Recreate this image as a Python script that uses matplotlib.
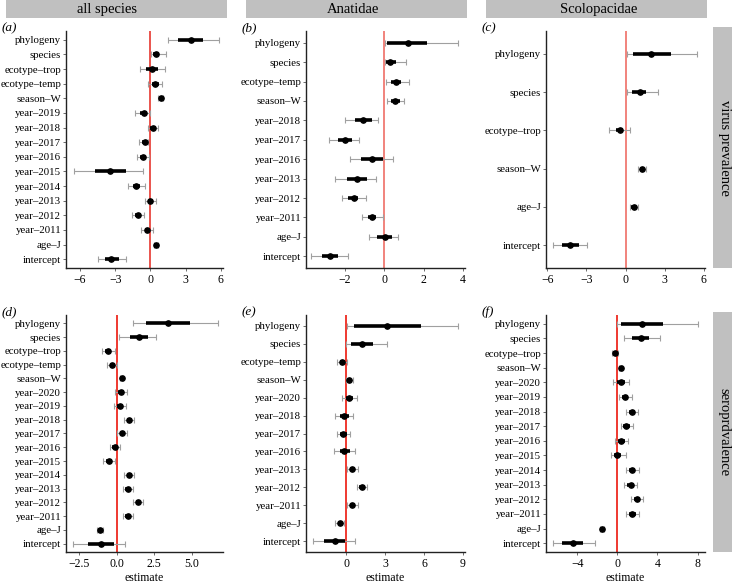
import matplotlib
matplotlib.use("Agg")
import matplotlib.pyplot as plt
from matplotlib.patches import Rectangle
import numpy as np

plt.rcParams['font.family'] = ['Liberation Serif', 'DejaVu Serif']

# ---- data (estimate, 50% interval, 95% interval), rows top -> bottom ----
terms_a = ["phylogeny", "species", "ecotype–trop", "ecotype–temp", "season–W", "year–2019",
           "year–2018", "year–2017", "year–2016", "year–2015", "year–2014", "year–2013",
           "year–2012", "year–2011", "age–J", "intercept"]
est_a = [3.43, 0.49, 0.14, 0.43, 0.89, -0.54, 0.23, -0.49, -0.63, -3.43, -1.2, 0.0, -1.06, -0.29, 0.46, -3.34]
lo50_a = [2.4, 0.2, -0.35, 0.1, 0.72, -0.9, 0.0, -0.75, -0.88, -4.74, -1.5, -0.2, -1.3, -0.5, 0.32, -3.91]
hi50_a = [4.5, 0.75, 0.65, 0.72, 1.05, -0.25, 0.45, -0.25, -0.4, -2.12, -0.9, 0.2, -0.8, -0.1, 0.6, -2.69]
lo95_a = [1.5, 0.03, -0.9, -0.2, 0.65, -1.29, -0.2, -1.0, -1.11, -6.5, -1.91, -0.49, -1.57, -0.77, 0.3, -4.51]
hi95_a = [5.9, 1.37, 1.22, 1.03, 1.1, 0.0, 0.63, -0.2, -0.11, -0.63, -0.49, 0.46, -0.57, 0.23, 0.62, -2.12]

terms_b = ["phylogeny", "species", "ecotype–temp", "season–W", "year–2018", "year–2017",
           "year–2016", "year–2013", "year–2012", "year–2011", "age–J", "intercept"]
est_b = [1.2, 0.31, 0.6, 0.55, -1.08, -2.0, -0.63, -1.37, -1.54, -0.6, 0.03, -2.74]
lo50_b = [0.14, 0.08, 0.35, 0.33, -1.49, -2.34, -1.16, -1.88, -1.8, -0.82, -0.34, -3.16]
hi50_b = [2.19, 0.6, 0.85, 0.8, -0.63, -1.62, -0.05, -0.85, -1.3, -0.4, 0.39, -2.31]
lo95_b = [0.03, 0.03, 0.09, 0.14, -1.97, -2.77, -1.74, -2.48, -2.14, -1.14, -0.77, -3.68]
hi95_b = [3.73, 1.11, 1.25, 1.03, -0.31, -1.28, 0.43, -0.39, -0.91, -0.05, 0.73, -1.83]

terms_c = ["phylogeny", "species", "ecotype–trop", "season–W", "age–J", "intercept"]
est_c = [1.98, 1.09, -0.44, 1.27, 0.63, -4.25]
lo50_c = [0.58, 0.5, -0.7, 1.1, 0.45, -4.89]
hi50_c = [3.46, 1.6, -0.2, 1.45, 0.85, -3.57]
lo95_c = [0.08, 0.08, -1.25, 0.96, 0.38, -5.57]
hi95_c = [5.47, 2.49, 0.38, 1.55, 0.96, -2.98]

terms_d = ["phylogeny", "species", "ecotype–trop", "ecotype–temp", "season–W", "year–2020",
           "year–2019", "year–2018", "year–2017", "year–2016", "year–2015", "year–2014",
           "year–2013", "year–2012", "year–2011", "age–J", "intercept"]
est_d = [3.4, 1.49, -0.56, -0.29, 0.35, 0.31, 0.24, 0.84, 0.38, -0.11, -0.49, 0.84, 0.73, 1.42, 0.73, -1.11, -1.05]
lo50_d = [1.93, 0.89, -0.75, -0.45, 0.27, 0.1, 0.05, 0.67, 0.2, -0.28, -0.7, 0.67, 0.56, 1.27, 0.56, -1.22, -1.89]
hi50_d = [4.89, 2.07, -0.35, -0.1, 0.43, 0.5, 0.43, 1.01, 0.55, 0.06, -0.29, 1.01, 0.9, 1.58, 0.9, -1.0, -0.18]
lo95_d = [1.07, 0.18, -1.0, -0.67, 0.25, -0.09, -0.16, 0.51, 0.04, -0.45, -0.93, 0.51, 0.4, 1.11, 0.4, -1.3, -2.89]
hi95_d = [6.73, 2.6, -0.11, 0.0, 0.45, 0.69, 0.62, 1.18, 0.69, 0.22, -0.09, 1.18, 1.07, 1.73, 1.07, -0.93, 0.55]

terms_e = ["phylogeny", "species", "ecotype–temp", "season–W", "year–2020", "year–2018",
           "year–2017", "year–2016", "year–2013", "year–2012", "year–2011", "age–J", "intercept"]
est_e = [3.18, 1.26, -0.28, 0.23, 0.23, -0.15, -0.21, -0.13, 0.49, 1.23, 0.49, -0.46, -0.85]
lo50_e = [0.64, 0.38, -0.45, 0.1, 0.0, -0.5, -0.45, -0.5, 0.28, 1.02, 0.3, -0.62, -1.67]
hi50_e = [5.77, 2.1, -0.1, 0.36, 0.5, 0.2, 0.05, 0.3, 0.72, 1.44, 0.7, -0.3, -0.08]
lo95_e = [0.05, 0.0, -0.67, 0.0, -0.28, -0.85, -0.72, -0.9, 0.05, 0.82, 0.1, -0.85, -2.51]
hi95_e = [8.64, 3.13, 0.05, 0.51, 0.82, 0.56, 0.31, 0.69, 0.95, 1.64, 0.9, -0.15, 0.69]

terms_f = ["phylogeny", "species", "ecotype–trop", "season–W", "year–2020", "year–2019",
           "year–2018", "year–2017", "year–2016", "year–2015", "year–2014", "year–2013",
           "year–2012", "year–2011", "age–J", "intercept"]
est_f = [2.43, 2.33, -0.23, 0.33, 0.4, 0.77, 1.5, 0.9, 0.4, 0.0, 1.5, 1.33, 2.0, 1.5, -1.5, -4.4]
lo50_f = [0.33, 1.43, -0.4, 0.25, 0.0, 0.45, 1.2, 0.6, 0.05, -0.35, 1.2, 1.0, 1.7, 1.15, -1.65, -5.5]
hi50_f = [4.57, 3.17, -0.05, 0.42, 0.8, 1.1, 1.8, 1.25, 0.75, 0.4, 1.8, 1.65, 2.3, 1.85, -1.38, -3.4]
lo95_f = [0.0, 0.67, -0.57, 0.2, -0.4, 0.17, 0.9, 0.33, -0.27, -0.67, 0.9, 0.67, 1.4, 0.9, -1.75, -6.4]
hi95_f = [8.07, 4.27, 0.1, 0.45, 1.17, 1.5, 2.1, 1.6, 1.07, 0.83, 2.13, 2.0, 2.6, 2.17, -1.3, -2.23]

col_titles = ["all species", "Anatidae", "Scolopacidae"]
row_titles = ["virus prevalence", "seroprdvalence"]
panel_tags = ["(a)", "(b)", "(c)", "(d)", "(e)", "(f)"]

W, H = 732, 584
fig = plt.figure(figsize=(W / 100, H / 100), dpi=100)

# panel boxes in pixels: (left, right) and (top, bottom)
col_px = [(66, 223), (306, 465), (546, 705)]
row_px = [(31, 268), (315, 552)]

panels = [
    (terms_a, est_a, lo50_a, hi50_a, lo95_a, hi95_a, (-7.2, 6.2), [-6, -3, 0, 3, 6], None, '#e8473f'),
    (terms_b, est_b, lo50_b, hi50_b, lo95_b, hi95_b, (-3.95, 4.1), [-2, 0, 2, 4], None, '#f07a72'),
    (terms_c, est_c, lo50_c, hi50_c, lo95_c, hi95_c, (-6.1, 6.1), [-6, -3, 0, 3, 6], None, '#f07a72'),
    (terms_d, est_d, lo50_d, hi50_d, lo95_d, hi95_d, (-3.38, 7.09), [-2.5, 0, 2.5, 5],
     ["−2.5", "0.0", "2.5", "5.0"], '#ee2a20'),
    (terms_e, est_e, lo50_e, hi50_e, lo95_e, hi95_e, (-3.08, 9.15), [0, 3, 6, 9], None, '#ee2a20'),
    (terms_f, est_f, lo50_f, hi50_f, lo95_f, hi95_f, (-7.1, 8.73), [-4, 0, 4, 8], None, '#ee2a20'),
]

for i, (terms, est, lo50, hi50, lo95, hi95, xlim, xticks, xtl, vcol) in enumerate(panels):
    r, c = divmod(i, 3)
    l, rr = col_px[c]
    t, b = row_px[r]
    ax = fig.add_axes([l / W, 1 - b / H, (rr - l) / W, (b - t) / H])
    n = len(terms)
    y = np.arange(n)[::-1]

    ax.axvline(0, color=vcol, lw=1.3, zorder=1)
    ax.errorbar(est, y, xerr=[np.array(est) - np.array(lo95), np.array(hi95) - np.array(est)],
                fmt='none', ecolor='#a0a0a0', elinewidth=0.8, capsize=2.2, capthick=0.8, zorder=2)
    ax.hlines(y, lo50, hi50, color='black', lw=2.6, zorder=3)
    ax.plot(est, y, 'o', color='black', ms=3.8, zorder=4)

    ax.set_ylim(-0.6, n - 1 + 0.6)
    ax.set_yticks(y)
    ax.set_yticklabels(terms, fontsize=7.8)
    ax.set_xlim(*xlim)
    ax.set_xticks(xticks)
    if xtl:
        ax.set_xticklabels(xtl)
    ax.tick_params(axis='x', labelsize=8.5, length=2, width=0.6, color='#555555', pad=2)
    ax.tick_params(axis='y', length=2, width=0.6, color='#555555', pad=1.5)
    for s in ['top', 'right']:
        ax.spines[s].set_visible(False)
    for s in ['left', 'bottom']:
        ax.spines[s].set_color('#222222')
        ax.spines[s].set_linewidth(1.0)
    if r == 1:
        ax.set_xlabel('estimate', fontsize=8.5, labelpad=2)

    fig.text((l - 64) / W, 1 - (t - 3) / H, panel_tags[i], fontsize=9.5, style='italic',
             ha='left', va='center')

# column header strips
strip_gray = '#c0c0c0'
strip_x = [(6, 227), (246, 467), (486, 707)]
title_x = [107, 353, 599]
for c, (x0, x1) in enumerate(strip_x):
    fig.add_artist(Rectangle((x0 / W, 1 - 18 / H), (x1 - x0) / W, 18 / H,
                             transform=fig.transFigure, facecolor=strip_gray, edgecolor='none'))
    fig.text(title_x[c] / W, 1 - 9.5 / H, col_titles[c], fontsize=10.5, ha='center', va='center')

# row header strips
for r, (y0, y1) in enumerate([(27, 268), (312, 552)]):
    fig.add_artist(Rectangle((713 / W, 1 - y1 / H), 19 / W, (y1 - y0) / H,
                             transform=fig.transFigure, facecolor=strip_gray, edgecolor='none'))
    fig.text(724 / W, 1 - (y0 + y1) / 2 / H, row_titles[r], fontsize=10.5, rotation=270,
             ha='center', va='center')

fig.savefig('out.png', dpi=100, facecolor='white')
